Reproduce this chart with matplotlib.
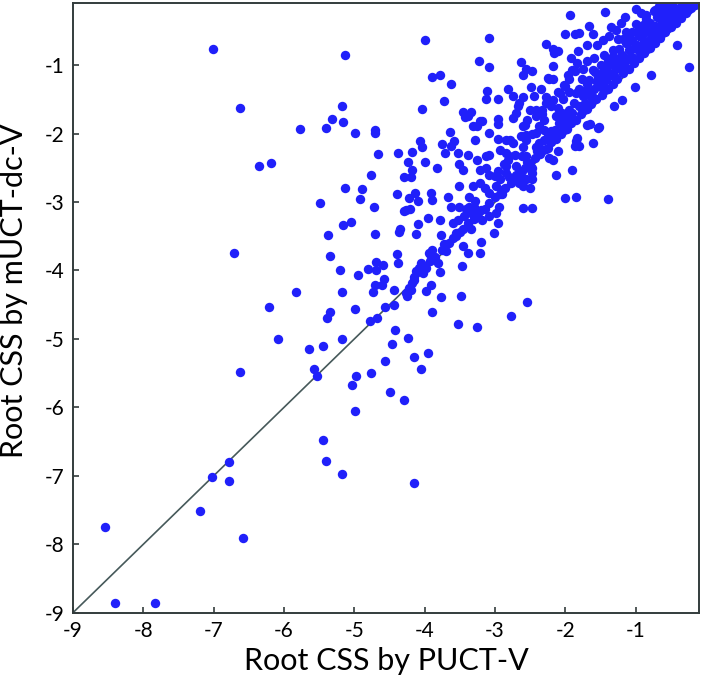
import matplotlib
matplotlib.use("Agg")
import matplotlib.pyplot as plt

plt.rcParams["font.family"] = ["Lato", "DejaVu Sans"]
plt.rcParams["axes.unicode_minus"] = False

# Root CSS, one point per test position: (PUCT-V, mUCT-dc-V)
PTS_SPARSE = [
    (-7.01, -0.77), (-6.62, -1.62), (-5.77, -1.94), (-6.35, -2.47), (-6.19, -2.43),
    (-6.71, -3.75), (-5.83, -4.32), (-6.22, -4.54), (-6.08, -5.00), (-6.63, -5.48),
    (-8.54, -7.75), (-7.20, -7.51), (-7.02, -7.02), (-6.78, -6.80), (-6.78, -7.08),
    (-6.59, -7.91), (-8.41, -8.86), (-7.83, -8.86),
    (-5.64, -5.15), (-5.45, -5.10), (-5.58, -5.44), (-5.53, -5.54), (-5.39, -4.69),
    (-5.34, -4.61), (-5.34, -3.79), (-5.20, -4.00), (-5.18, -4.32), (-5.18, -5.00),
    (-4.99, -4.56), (-4.95, -4.06), (-5.04, -5.67), (-4.98, -5.54), (-4.99, -6.06),
    (-5.44, -6.48), (-5.41, -6.79), (-5.18, -6.97), (-4.49, -5.78), (-4.29, -5.89),
    (-4.15, -7.11), (-5.14, -0.85), (-3.99, -0.63), (-3.09, -0.60),
]

PTS_MID = [
    (-4.81, -3.98), (-4.69, -3.88), (-4.69, -3.99), (-4.59, -3.92), (-4.58, -4.13),
    (-4.61, -4.22), (-4.70, -4.22), (-4.74, -4.32), (-4.40, -3.76), (-4.38, -3.89),
    (-4.43, -4.28), (-4.43, -4.50), (-4.56, -4.54), (-4.68, -4.69), (-4.78, -4.74),
    (-4.42, -4.87), (-4.24, -4.98), (-4.47, -5.08), (-4.56, -5.33), (-4.15, -5.27),
    (-4.06, -5.44), (-3.95, -5.20), (-4.76, -5.50),
    (-4.25, -4.37), (-4.20, -4.28), (-4.18, -4.18), (-4.15, -4.09), (-4.11, -4.03),
    (-4.08, -3.96), (-4.03, -4.04), (-3.98, -3.96), (-3.98, -4.30), (-3.91, -4.21),
    (-3.90, -4.61), (-3.77, -4.39), (-3.78, -4.03), (-3.81, -3.89), (-3.93, -3.76),
    (-3.89, -3.70), (-3.70, -3.72), (-3.47, -3.94), (-3.48, -4.37), (-3.52, -4.78),
    (-3.26, -4.83), (-2.55, -4.46), (-2.77, -4.67),
    (-5.49, -3.02), (-5.41, -1.92), (-5.32, -1.79), (-5.18, -1.60), (-5.16, -1.83),
    (-4.99, -1.99), (-4.71, -1.95), (-4.71, -1.99), (-4.66, -2.30), (-4.77, -2.60),
    (-5.14, -2.79), (-4.89, -2.81), (-4.92, -2.95), (-4.72, -3.08), (-5.16, -3.34),
    (-5.05, -3.29), (-5.37, -3.48), (-4.70, -3.47),
    (-4.38, -2.29), (-4.18, -2.27), (-4.07, -2.11), (-4.04, -2.19), (-4.04, -1.64),
    (-4.24, -2.42), (-3.99, -2.42), (-4.18, -2.53), (-4.30, -2.64), (-4.20, -2.63),
    (-4.40, -2.88), (-4.22, -2.94), (-4.14, -2.87), (-4.09, -2.98), (-4.30, -3.13),
    (-4.21, -3.10), (-3.96, -3.23), (-4.09, -3.32), (-4.35, -3.40), (-4.37, -3.44),
    (-4.13, -3.47), (-3.94, -3.75), (-4.06, -3.89), (-4.12, -4.01), (-4.15, -4.14),
    (-4.22, -4.26), (-4.26, -4.33), (-4.27, -3.11),
]

PTS_UPPER = [
    (-3.89, -1.17), (-3.79, -1.15), (-3.63, -1.27), (-3.23, -0.94), (-3.08, -1.03),
    (-3.72, -1.53), (-3.46, -1.68), (-3.34, -1.68), (-3.38, -1.75), (-3.43, -1.76),
    (-3.12, -1.38), (-3.13, -1.50), (-2.96, -1.49), (-2.82, -1.35), (-2.75, -1.45),
    (-2.56, -1.06), (-2.60, -1.14), (-2.48, -1.09), (-2.49, -1.32), (-2.61, -1.46),
    (-2.67, -1.60), (-2.18, -1.01), (-3.22, -1.82), (-3.18, -1.82), (-3.32, -1.89),
    (-3.26, -1.89), (-3.64, -1.98), (-3.59, -2.11), (-3.62, -2.18), (-3.75, -2.16),
    (-3.71, -2.29), (-3.53, -2.28), (-3.39, -2.32), (-3.29, -2.09), (-3.08, -1.99),
    (-2.96, -1.79), (-2.96, -1.86), (-2.96, -2.08), (-2.75, -1.77), (-2.79, -2.09),
    (-2.57, -1.87), (-2.63, -2.03), (-2.56, -2.02), (-2.93, -2.24), (-2.84, -2.28),
    (-2.82, -2.38), (-3.13, -2.33), (-3.08, -2.31), (-3.83, -2.50), (-3.51, -2.45),
    (-3.46, -2.53), (-3.26, -2.38), (-3.22, -2.53), (-3.13, -2.50), (-3.08, -2.60),
    (-2.96, -2.55), (-2.93, -2.67), (-2.84, -2.48), (-2.80, -2.63), (-2.70, -2.60),
    (-2.62, -2.33), (-2.54, -2.41), (-2.47, -2.50), (-2.42, -2.19), (-2.37, -2.28),
    (-2.30, -2.09), (-2.25, -2.21), (-2.18, -2.38), (-2.13, -2.60), (-2.21, -1.97),
    (-2.09, -1.84), (-2.42, -1.65), (-2.33, -1.72), (-2.28, -1.55), (-2.37, -1.89),
    (-2.07, -1.41), (-2.02, -1.29), (-2.18, -1.21), (-1.97, -1.14), (-1.90, -1.07),
    (-3.51, -2.77), (-3.32, -2.77), (-3.22, -2.72), (-3.37, -2.92), (-3.30, -3.07),
    (-3.25, -3.14), (-2.99, -2.77), (-2.90, -2.89), (-2.94, -3.07), (-3.08, -2.87),
    (-2.56, -2.67), (-2.47, -2.67), (-2.61, -2.77), (-2.51, -2.80), (-2.61, -3.09),
    (-2.47, -3.09), (-1.90, -2.53), (-2.00, -2.94), (-1.85, -2.92), (-3.91, -2.87),
    (-3.89, -2.97), (-3.79, -3.26), (-3.63, -3.07), (-3.51, -3.07), (-3.67, -2.92),
    (-3.77, -3.48), (-3.72, -3.62), (-3.53, -3.26), (-3.44, -3.21), (-3.34, -3.16),
    (-3.37, -3.07), (-3.60, -3.31), (-3.55, -3.45), (-3.27, -3.21), (-3.18, -3.26),
    (-3.08, -3.21), (-2.99, -3.16), (-2.96, -3.31), (-3.01, -3.45), (-3.20, -3.58),
    (-3.22, -3.75), (-3.39, -3.75), (-3.46, -3.65), (-3.34, -3.40),
]

PTS_CORNER = [
    (-1.94, -0.27), (-1.44, -0.22), (-2.00, -0.54), (-1.86, -0.54), (-1.80, -0.53),
    (-2.28, -0.69), (-2.18, -0.77), (-2.16, -0.82), (-2.11, -0.80), (-1.82, -0.80),
    (-1.66, -0.43), (-1.61, -0.55), (-1.21, -0.38), (-1.14, -0.51), (-0.90, -0.41),
    (-0.93, -0.24), (-0.86, -0.27), (-0.74, -0.21), (-0.67, -0.13), (-0.41, -0.70),
    (-0.25, -1.03), (-0.79, -1.14), (-1.01, -1.32), (-1.19, -1.51), (-1.31, -1.60),
    (-1.52, -1.90), (-1.65, -1.86), (-1.61, -2.14), (-1.85, -2.11), (-1.80, -2.18),
    (-1.87, -2.18), (-2.11, -2.26), (-2.23, -2.36), (-1.40, -2.95), (-1.69, -1.87),
    (-1.95, -1.65), (-2.11, -1.63), (-2.63, -0.96), (-2.25, -1.19), (-1.92, -0.90),
    (-1.83, -0.97), (-1.87, -1.09), (-1.69, -0.94), (-1.61, -1.07), (-1.52, -1.21),
    (-1.43, -1.02), (-1.33, -0.87), (-1.24, -0.77), (-1.14, -0.67), (-1.05, -0.63),
    (-1.38, -0.58), (-1.47, -0.63), (-1.28, -0.48), (-1.05, -0.51), (-0.95, -0.58),
    (-0.81, -0.51), (-0.72, -0.43), (-0.62, -0.33), (-0.53, -0.24), (-0.38, -0.16),
    (-0.29, -0.14), (-0.48, -0.12), (-0.57, -0.12), (-1.76, -1.21), (-1.71, -1.36),
    (-1.85, -1.41), (-2.00, -1.31), (-2.04, -1.50), (-2.23, -1.21), (-2.28, -1.46),
    (-2.18, -1.51), (-2.13, -1.75), (-2.33, -1.65), (-2.42, -1.75), (-2.51, -1.65),
    (-2.66, -1.55), (-2.70, -1.70), (-2.42, -1.99), (-2.37, -2.14), (-2.56, -2.09),
    (-2.61, -1.89), (-2.75, -2.14), (-2.84, -2.09), (-2.80, -2.33), (-2.70, -2.48),
    (-2.56, -2.33), (-2.47, -2.58), (-2.66, -2.72), (-2.84, -2.58),
    (-1.75, -1.05), (-1.60, -0.90), (-1.55, -1.25), (-1.45, -0.85), (-1.40, -1.10),
    (-1.30, -0.95), (-1.25, -0.62), (-1.20, -0.85), (-1.10, -0.78), (-1.00, -0.40),
    (-0.98, -0.70), (-0.90, -0.55), (-0.85, -0.32), (-0.78, -0.60), (-0.70, -0.30),
    (-0.65, -0.48), (-0.60, -0.22), (-0.55, -0.38), (-0.45, -0.20), (-0.40, -0.28),
    (-0.35, -0.15), (-0.25, -0.12), (-1.70, -0.70), (-1.55, -0.70), (-1.35, -0.45),
    (-1.15, -0.30), (-1.00, -0.18), (-1.60, -1.35), (-1.45, -1.30), (-1.30, -1.18),
    (-1.90, -1.70), (-2.05, -1.70), (-2.15, -1.95), (-1.95, -1.40), (-1.75, -1.45),
    (-2.35, -1.35), (-2.45, -1.45), (-2.55, -1.80), (-2.30, -1.95),
    (-1.83, -2.06), (-1.53, -1.92),
    # the packed wedge just above the diagonal, top right
    (-2.05, -1.88), (-1.95, -1.75), (-1.88, -1.55), (-1.80, -1.35), (-1.72, -1.55),
    (-1.66, -1.22), (-1.58, -1.10), (-1.50, -1.00), (-1.42, -1.22), (-1.36, -0.98),
    (-1.28, -1.05), (-1.22, -0.90), (-1.16, -0.95), (-1.08, -0.88), (-1.02, -0.75),
    (-0.95, -0.80), (-0.88, -0.65), (-0.82, -0.68), (-0.76, -0.50), (-0.70, -0.55),
    (-0.64, -0.40), (-0.58, -0.30), (-0.50, -0.35), (-0.44, -0.24), (-0.38, -0.22),
    (-0.30, -0.20), (-1.62, -1.45), (-1.48, -1.12), (-1.40, -0.92), (-1.32, -0.78),
    (-1.18, -0.62), (-1.10, -0.55), (-0.96, -0.48), (-0.88, -0.45), (-0.80, -0.38),
    (-0.72, -0.20), (-1.95, -1.20), (-2.10, -1.40), (-2.20, -1.60), (-2.30, -1.80),
    (-2.48, -2.00), (-2.60, -2.20), (-2.72, -2.32), (-2.88, -2.45), (-3.00, -2.62),
    (-3.15, -2.80), (-3.28, -2.98), (-3.42, -3.10), (-2.25, -2.00), (-2.05, -1.78),
    (-1.70, -1.28), (-1.54, -1.18), (-1.12, -0.68), (-0.66, -0.26),
]

# points hugging the y = x line
PTS_DIAG = [
    (-4.00, -3.93), (-3.92, -3.86), (-3.85, -3.80), (-3.76, -3.70), (-3.66, -3.60),
    (-3.60, -3.52), (-3.55, -3.50), (-3.45, -3.40), (-3.38, -3.30), (-3.30, -3.25),
    (-3.24, -3.16), (-3.15, -3.10), (-3.08, -3.02), (-3.00, -2.93), (-2.93, -2.88),
    (-2.86, -2.80), (-2.78, -2.72), (-2.72, -2.64), (-2.65, -2.60), (-2.58, -2.50),
    (-2.50, -2.45), (-2.43, -2.36), (-2.36, -2.30), (-2.28, -2.22), (-2.20, -2.13),
    (-2.14, -2.08), (-2.06, -2.00), (-1.98, -1.93), (-1.92, -1.85), (-1.85, -1.80),
    (-1.78, -1.72), (-1.70, -1.64), (-1.63, -1.57), (-1.56, -1.50), (-1.48, -1.43),
    (-1.40, -1.35), (-1.33, -1.27), (-1.26, -1.20), (-1.18, -1.12), (-1.10, -1.05),
    (-1.03, -0.97), (-0.95, -0.90), (-0.88, -0.82), (-0.80, -0.75), (-0.72, -0.67),
    (-0.65, -0.60), (-0.58, -0.52), (-0.50, -0.45), (-0.43, -0.38), (-0.36, -0.31),
    (-0.29, -0.24), (-0.22, -0.17), (-0.16, -0.12),
    (-2.40, -2.25), (-2.20, -2.02), (-2.00, -1.82), (-1.80, -1.60), (-1.65, -1.45),
    (-1.50, -1.32), (-1.35, -1.15), (-1.20, -1.00), (-1.05, -0.88), (-0.90, -0.72),
    (-0.75, -0.58), (-0.60, -0.42), (-0.45, -0.30), (-0.32, -0.18),
    (-3.50, -3.44), (-3.20, -3.12), (-2.90, -2.82), (-2.62, -2.54), (-2.32, -2.24),
    (-2.02, -1.95), (-1.74, -1.66), (-1.44, -1.36), (-1.14, -1.06), (-0.84, -0.76),
    (-0.54, -0.46), (-0.26, -0.19),
]

TICKS = [-9, -8, -7, -6, -5, -4, -3, -2, -1]
LO, HI = -9.0, -0.1

pts = PTS_SPARSE + PTS_MID + PTS_UPPER + PTS_CORNER + PTS_DIAG
puct_v = [p[0] for p in pts]
muct_dc_v = [p[1] for p in pts]

fig = plt.figure(figsize=(7.04, 6.86), dpi=100)
ax = fig.add_axes([0.1037, 0.1069, 0.8893, 0.8880])

ax.plot([LO, HI], [LO, HI], color="#46595a", lw=1.2, zorder=1)
ax.scatter(puct_v, muct_dc_v, s=46, color="#2020fa", linewidths=0, zorder=2)

ax.set_xlim(LO, HI)
ax.set_ylim(LO, HI)
ax.set_xticks(TICKS)
ax.set_yticks(TICKS)
ax.tick_params(direction="in", length=4, width=1.2, color="#333c3c",
               labelsize=15, pad=6)
for sp in ax.spines.values():
    sp.set_color("#333c3c")
    sp.set_linewidth(1.4)

ax.set_xlabel("Root CSS by PUCT-V", fontsize=22, labelpad=4)
ax.set_ylabel("Root CSS by mUCT-dc-V", fontsize=22)
# the label sits a little above the axis centre in the original
ax.yaxis.set_label_coords(-0.072, 0.528)

fig.savefig("out.png", dpi=100)
